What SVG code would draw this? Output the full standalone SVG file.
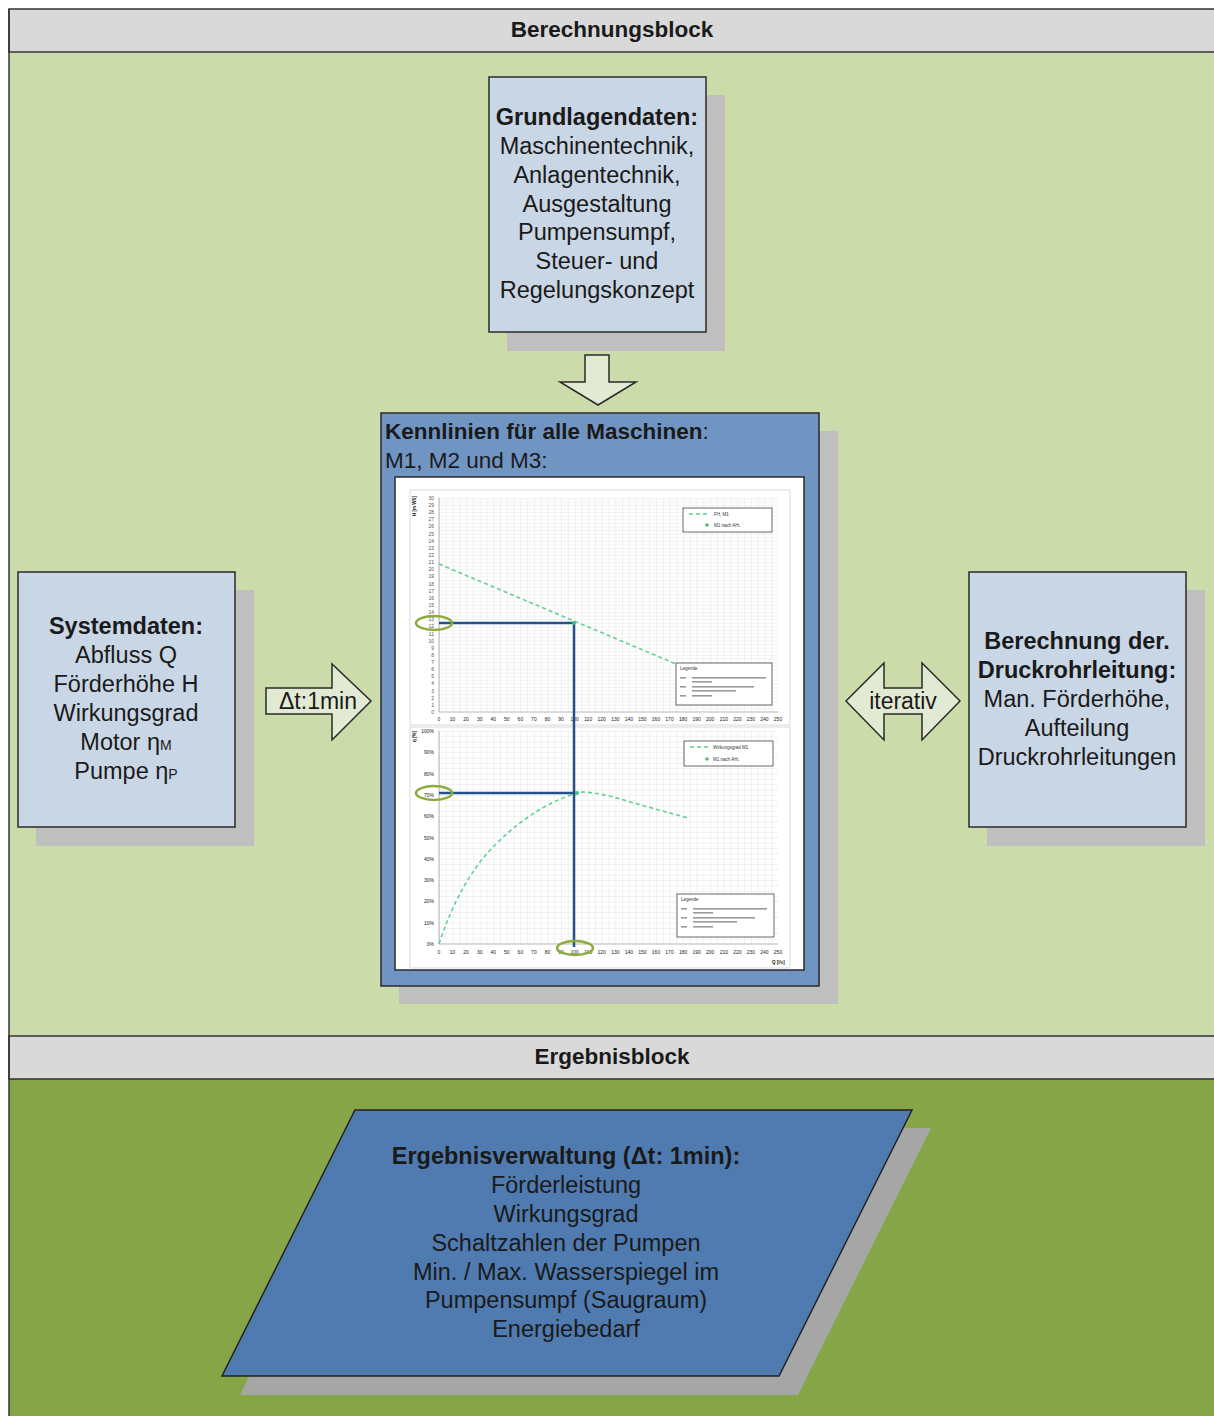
<svg xmlns="http://www.w3.org/2000/svg" width="1214" height="1416" viewBox="0 0 1214 1416">
<style>
text{font-family:"Liberation Sans",Arial,sans-serif;fill:#1a1a1a}
.t{font-size:23.5px;text-anchor:middle}
.b{font-weight:bold}
.hdr{font-size:22.5px;font-weight:bold;text-anchor:middle}
.box{fill:#c9d6e5;stroke:#2a2a2a;stroke-width:1.5}
.sh{fill:#bfbfbf}
.arr{fill:#e3ead3;stroke:#2a2a2a;stroke-width:1.5}
.tk{font-size:5px;fill:#555;text-anchor:middle}
.tky{font-size:5px;fill:#555;text-anchor:end}
.lg{font-size:4.5px;fill:#333}
.dash{fill:none;stroke:#5fd191;stroke-width:1.6;stroke-dasharray:4 3}
.blue{fill:none;stroke:#26508c;stroke-width:2.5}
.ell{fill:none;stroke:#8dab3c;stroke-width:2.5}
.bar{fill:#9a9a9a}
</style>
<defs>
<pattern id="g1" patternUnits="userSpaceOnUse" x="439" y="498" width="6.78" height="3.565">
<path d="M0 0V3.565M0 0H6.78" stroke="#d2d2d2" stroke-width="0.6" fill="none"/>
</pattern>
<pattern id="g2" patternUnits="userSpaceOnUse" x="439" y="731" width="6.78" height="5.325">
<path d="M0 0V5.325M0 0H6.78" stroke="#d2d2d2" stroke-width="0.6" fill="none"/>
</pattern>
</defs>

<rect width="1214" height="1416" fill="#ffffff"/>
<g id="berechnungsblock">
<rect x="9" y="52" width="1210" height="984" fill="#ccdbaa"/>
<rect x="9" y="9" width="1210" height="43" fill="#d9d9d9" stroke="#333" stroke-width="1.5"/>
<text class="hdr" x="612" y="37">Berechnungsblock</text>
</g>
<g id="ergebnisblock">
<rect x="9" y="1079" width="1210" height="340" fill="#86a547"/>
<rect x="9" y="1036" width="1210" height="43" fill="#d9d9d9" stroke="#333" stroke-width="1.5"/>
<text class="hdr" x="612" y="1064">Ergebnisblock</text>
</g>
<line x1="9" y1="9" x2="9" y2="1416" stroke="#333" stroke-width="1.5"/>

<g id="grundlagendaten">
<rect class="sh" x="507" y="95" width="218" height="256"/>
<rect class="box" x="489" y="77" width="217" height="255"/>
<text class="t b" x="597" y="125">Grundlagendaten:</text>
<text class="t" x="597" y="154">Maschinentechnik,</text>
<text class="t" x="597" y="183">Anlagentechnik,</text>
<text class="t" x="597" y="212">Ausgestaltung</text>
<text class="t" x="597" y="240">Pumpensumpf,</text>
<text class="t" x="597" y="269">Steuer- und</text>
<text class="t" x="597" y="298">Regelungskonzept</text>
</g>

<g id="systemdaten">
<rect class="sh" x="36" y="590" width="218" height="256"/>
<rect class="box" x="18" y="572" width="217" height="255"/>
<text class="t b" x="126" y="634">Systemdaten:</text>
<text class="t" x="126" y="663">Abfluss Q</text>
<text class="t" x="126" y="692">Förderhöhe H</text>
<text class="t" x="126" y="721">Wirkungsgrad</text>
<text class="t" x="126" y="750">Motor η<tspan font-size="14">M</tspan></text>
<text class="t" x="126" y="779">Pumpe η<tspan font-size="14">P</tspan></text>
</g>

<g id="druckrohrleitung">
<rect class="sh" x="987" y="590" width="218" height="256"/>
<rect class="box" x="969" y="572" width="217" height="255"/>
<text class="t b" x="1077" y="649">Berechnung der.</text>
<text class="t b" x="1077" y="678">Druckrohrleitung:</text>
<text class="t" x="1077" y="707">Man. Förderhöhe,</text>
<text class="t" x="1077" y="736">Aufteilung</text>
<text class="t" x="1077" y="765">Druckrohrleitungen</text>
</g>

<g id="kennlinien">
<rect class="sh" x="399" y="431" width="439" height="573"/>
<rect x="381" y="413" width="438" height="573" fill="#7195c2" stroke="#2a2a2a" stroke-width="1.5"/>
<text x="385" y="439" font-size="22.5px"><tspan font-weight="bold">Kennlinien für alle Maschinen</tspan>:</text>
<text x="385" y="468" font-size="22.5px">M1, M2 und M3:</text>
<rect x="395" y="477" width="409" height="493" fill="#ffffff" stroke="#2a2a2a" stroke-width="1.5"/>

<!-- top chart -->
<rect x="410" y="490" width="380" height="235" fill="none" stroke="#d0d0d0" stroke-width="0.8"/>
<rect x="439" y="498" width="339" height="214" fill="url(#g1)"/>
<path d="M439 498V712H778" fill="none" stroke="#999" stroke-width="0.7"/>
<text class="tky" x="434" y="714">0</text><text class="tky" x="434" y="707">1</text><text class="tky" x="434" y="700">2</text><text class="tky" x="434" y="693">3</text><text class="tky" x="434" y="685">4</text><text class="tky" x="434" y="678">5</text><text class="tky" x="434" y="671">6</text><text class="tky" x="434" y="664">7</text><text class="tky" x="434" y="657">8</text><text class="tky" x="434" y="650">9</text><text class="tky" x="434" y="643">10</text><text class="tky" x="434" y="636">11</text><text class="tky" x="434" y="628">12</text><text class="tky" x="434" y="621">13</text><text class="tky" x="434" y="614">14</text><text class="tky" x="434" y="607">15</text><text class="tky" x="434" y="600">16</text><text class="tky" x="434" y="593">17</text><text class="tky" x="434" y="586">18</text><text class="tky" x="434" y="578">19</text><text class="tky" x="434" y="571">20</text><text class="tky" x="434" y="564">21</text><text class="tky" x="434" y="557">22</text><text class="tky" x="434" y="550">23</text><text class="tky" x="434" y="543">24</text><text class="tky" x="434" y="536">25</text><text class="tky" x="434" y="528">26</text><text class="tky" x="434" y="521">27</text><text class="tky" x="434" y="514">28</text><text class="tky" x="434" y="507">29</text><text class="tky" x="434" y="500">30</text>
<text font-size="4.5px" font-weight="bold" fill="#333" transform="translate(416,516) rotate(-90)">H [m WS]</text>
<g class="tk">
<text x="439" y="721">0</text><text x="452.6" y="721">10</text><text x="466.1" y="721">20</text><text x="479.7" y="721">30</text><text x="493.2" y="721">40</text><text x="506.8" y="721">50</text><text x="520.4" y="721">60</text><text x="533.9" y="721">70</text><text x="547.5" y="721">80</text><text x="561" y="721">90</text><text x="574.6" y="721">100</text><text x="588.2" y="721">110</text><text x="601.7" y="721">120</text><text x="615.3" y="721">130</text><text x="628.8" y="721">140</text><text x="642.4" y="721">150</text><text x="656" y="721">160</text><text x="669.5" y="721">170</text><text x="683.1" y="721">180</text><text x="696.6" y="721">190</text><text x="710.2" y="721">200</text><text x="723.8" y="721">210</text><text x="737.3" y="721">220</text><text x="750.9" y="721">230</text><text x="764.4" y="721">240</text><text x="778" y="721">250</text>
</g>
<path class="dash" d="M439 564L676 664"/>
<rect x="683" y="508" width="89" height="24" fill="#fff" stroke="#444" stroke-width="0.8"/>
<path class="dash" d="M689 514H708" stroke-width="1"/>
<text class="lg" x="714" y="516">FH, M1</text>
<circle cx="707" cy="525" r="1.8" fill="#3fc27a"/>
<text class="lg" x="714" y="527">M1 nach AH<tspan font-size="3px">L</tspan></text>
<rect x="676" y="663" width="96" height="42" fill="#fff" stroke="#444" stroke-width="0.8"/>
<text class="lg" x="680" y="670" font-size="3.5px">Legende</text>
<rect class="bar" x="680" y="677" width="6" height="1.6"/><rect class="bar" x="692" y="677" width="74" height="1.6"/><rect class="bar" x="692" y="681" width="20" height="1.6"/>
<rect class="bar" x="680" y="686" width="6" height="1.6"/><rect class="bar" x="692" y="686" width="62" height="1.6"/><rect class="bar" x="692" y="690" width="44" height="1.6"/>
<rect class="bar" x="680" y="695" width="6" height="1.6"/><rect class="bar" x="692" y="695" width="20" height="1.6"/>

<!-- bottom chart -->
<rect x="410" y="727" width="380" height="241" fill="none" stroke="#d0d0d0" stroke-width="0.8"/>
<rect x="439" y="731" width="339" height="213" fill="url(#g2)"/>
<path d="M439 731V944H778" fill="none" stroke="#999" stroke-width="0.7"/>
<g class="tky">
<text x="434" y="946">0%</text><text x="434" y="925">10%</text><text x="434" y="903">20%</text><text x="434" y="882">30%</text><text x="434" y="861">40%</text><text x="434" y="840">50%</text><text x="434" y="818">60%</text><text x="434" y="797">70%</text><text x="434" y="776">80%</text><text x="434" y="754">90%</text><text x="434" y="733">100%</text>
</g>
<text font-size="4.5px" font-weight="bold" fill="#333" transform="translate(416,742) rotate(-90)">η [%]</text>
<g class="tk">
<text x="439" y="954">0</text><text x="452.6" y="954">10</text><text x="466.1" y="954">20</text><text x="479.7" y="954">30</text><text x="493.2" y="954">40</text><text x="506.8" y="954">50</text><text x="520.4" y="954">60</text><text x="533.9" y="954">70</text><text x="547.5" y="954">80</text><text x="561" y="954">90</text><text x="574.6" y="954">100</text><text x="588.2" y="954">110</text><text x="601.7" y="954">120</text><text x="615.3" y="954">130</text><text x="628.8" y="954">140</text><text x="642.4" y="954">150</text><text x="656" y="954">160</text><text x="669.5" y="954">170</text><text x="683.1" y="954">180</text><text x="696.6" y="954">190</text><text x="710.2" y="954">200</text><text x="723.8" y="954">210</text><text x="737.3" y="954">220</text><text x="750.9" y="954">230</text><text x="764.4" y="954">240</text><text x="778" y="954">250</text>
</g>
<text font-size="4.5px" font-weight="bold" fill="#333" x="772" y="964">Q [l/s]</text>
<path class="dash" d="M439 944Q460 880 495 845Q535 805 580 792Q600 792 630 802L688 818"/>
<rect x="684" y="741" width="89" height="25" fill="#fff" stroke="#444" stroke-width="0.8"/>
<path class="dash" d="M690 747H709" stroke-width="1"/>
<text class="lg" x="713" y="749">Wirkungsgrad M1</text>
<circle cx="707" cy="759" r="1.8" fill="#3fc27a"/>
<text class="lg" x="713" y="761">M1 nach AH<tspan font-size="3px">L</tspan></text>
<rect x="677" y="894" width="97" height="43" fill="#fff" stroke="#444" stroke-width="0.8"/>
<text class="lg" x="681" y="901" font-size="3.5px">Legende</text>
<rect class="bar" x="681" y="908" width="6" height="1.6"/><rect class="bar" x="693" y="908" width="74" height="1.6"/><rect class="bar" x="693" y="912" width="20" height="1.6"/>
<rect class="bar" x="681" y="917" width="6" height="1.6"/><rect class="bar" x="693" y="917" width="62" height="1.6"/><rect class="bar" x="693" y="921" width="44" height="1.6"/>
<rect class="bar" x="681" y="926" width="6" height="1.6"/><rect class="bar" x="693" y="926" width="20" height="1.6"/>

<!-- reading lines -->
<path class="blue" d="M439 623H574V947"/>
<path class="blue" d="M439 793H576"/>
<circle cx="574" cy="623" r="2" fill="#3fc27a"/>
<circle cx="577" cy="793" r="2" fill="#3fc27a"/>
<ellipse class="ell" cx="434" cy="623" rx="18" ry="7"/>
<ellipse class="ell" cx="434" cy="793" rx="18" ry="7"/>
<ellipse class="ell" cx="575" cy="948" rx="18" ry="7"/>
</g>

<g id="ergebnisverwaltung">
<polygon points="374,1128 931,1128 798,1395 240,1395" fill="#a6a6a6"/>
<polygon points="355,1110 912,1110 779,1376 222,1376" fill="#4f7bb0" stroke="#222" stroke-width="1.5"/>
<text class="t b" x="566" y="1164">Ergebnisverwaltung (Δt: 1min):</text>
<text class="t" x="566" y="1193">Förderleistung</text>
<text class="t" x="566" y="1222">Wirkungsgrad</text>
<text class="t" x="566" y="1251">Schaltzahlen der Pumpen</text>
<text class="t" x="566" y="1280">Min. / Max. Wasserspiegel im</text>
<text class="t" x="566" y="1308">Pumpensumpf (Saugraum)</text>
<text class="t" x="566" y="1337">Energiebedarf</text>
</g>

<g id="connectors">
<polygon class="arr" points="585,355 609,355 609,382 636,382 598,405 560,382 585,382"/>
<polygon class="arr" points="266,688 332,688 332,664 371,701 332,740 332,714 266,714"/>
<text x="318" y="709" font-size="23px" text-anchor="middle">Δt:1min</text>
<polygon class="arr" points="846,701 884,663 884,688 922,688 922,663 960,701 922,740 922,714 884,714 884,740"/>
<text x="903" y="709" font-size="23px" text-anchor="middle">iterativ</text>
</g>
</svg>
